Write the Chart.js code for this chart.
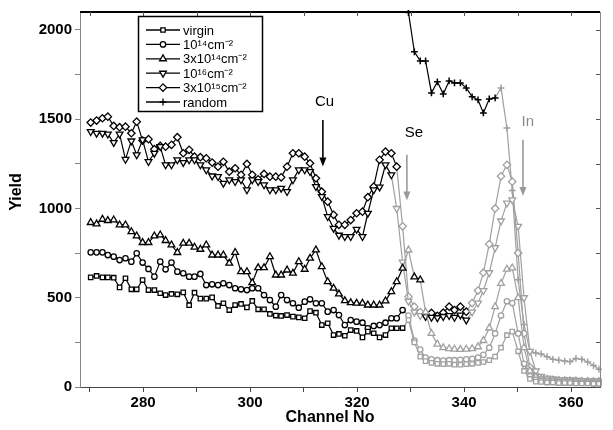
<!DOCTYPE html>
<html><head><meta charset="utf-8">
<script src="https://cdn.jsdelivr.net/npm/chart.js@4.4.1/dist/chart.umd.min.js"></script>
<style>html,body{margin:0;padding:0;background:#fff}#wrap{width:613px;height:430px}</style>
</head><body><div id="wrap"><canvas id="c" width="613" height="430"></canvas></div>
<script>
// ---- data ----
const channels = [270.2,271.3,272.4,273.4,274.5,275.6,276.7,277.8,278.8,279.9,
281.0,282.1,283.2,284.2,285.3,286.4,287.5,288.6,289.6,290.7,
291.8,292.9,294.0,295.0,296.1,297.2,298.3,299.4,300.4,301.5,
302.6,303.7,304.8,305.8,306.9,308.0,309.1,310.2,311.2,312.3,
313.4,314.5,315.6,316.6,317.7,318.8,319.9,321.0,322.0,323.1,
324.2,325.3,326.4,327.4,328.5,329.6,330.7,331.8,332.8,333.9,
335.0,336.1,337.2,338.2,339.3,340.4,341.5,342.6,343.6,344.7,
345.8,346.9,348.0,349.0,350.1,351.2,352.3,353.4,354.4,355.5,
356.6,357.7,358.8,359.8,360.9,362.0,363.1,364.2,365.2];

const virgin = [614,622,614,614,612,558,609,547,547,599,
543,543,525,515,521,519,530,458,528,495,
495,502,454,469,431,459,465,446,482,435,
435,409,400,398,403,394,390,385,425,416,
347,357,291,297,287,319,314,278,310,301,
278,291,329,329,330,375,250,170,145,135,
130,128,130,125,125,128,130,135,140,150,
170,220,290,310,200,90,45,30,28,25,
25,22,22,22,20,20,20,18,18];

const dose1e14 = [754,754,754,739,730,711,721,702,749,697,
661,618,702,659,697,646,637,618,618,633,
571,575,571,581,571,553,547,543,553,553,
515,487,450,515,487,469,444,478,491,469,
469,422,431,403,347,375,366,360,329,342,
347,360,385,385,431,400,260,210,165,155,
150,148,150,150,152,155,158,165,180,220,
300,400,480,470,300,130,60,40,35,32,
30,28,28,26,25,25,24,22,22];

const dose3e14 = [921,913,939,932,936,908,908,870,846,809,
809,846,852,820,796,753,805,805,783,771,
796,739,739,739,693,754,646,646,584,668,
668,730,627,627,655,637,702,659,721,768,
674,590,553,521,483,472,469,469,459,459,
459,482,534,590,665,767,616,600,420,300,
240,220,215,212,210,212,215,225,260,330,
450,580,660,667,500,220,90,55,45,40,
38,35,35,33,32,30,30,28,28];

const dose1e16 = [1430,1421,1421,1416,1369,1416,1275,1378,1300,1384,
1262,1309,1346,1244,1244,1272,1257,1272,1272,1244,
1216,1182,1178,1141,1160,1150,1160,1104,1160,1150,
1132,1104,1104,1113,1094,1160,1216,1216,1206,1122,
1066,954,889,850,842,842,883,842,973,1104,
1120,1244,1188,1000,700,480,420,400,395,390,
388,395,400,390,403,375,420,470,540,640,
780,930,1030,1048,900,500,200,90,60,50,
45,42,40,40,38,36,35,34,33];

const dose3e15 = [1481,1492,1505,1514,1462,1455,1458,1421,1486,1380,
1388,1332,1350,1346,1356,1399,1309,1328,1290,1287,
1281,1257,1234,1261,1206,1225,1188,1249,1188,1163,
1193,1178,1178,1174,1234,1309,1309,1290,1253,1169,
1094,1038,964,908,908,935,973,982,1063,1122,
1272,1318,1309,1234,900,506,450,420,403,415,
398,416,450,431,450,422,470,540,640,800,
1000,1180,1244,1150,750,300,110,60,45,40,
38,36,35,34,33,32,32,30,30];

const random = [null,null,null,null,null,null,null,null,null,null,
null,null,null,null,null,null,null,null,null,null,
null,null,null,null,null,null,null,null,null,null,
null,null,null,null,null,null,null,null,null,null,
null,null,null,null,null,null,null,null,null,null,
null,null,null,null,2600,2097,1877,1826,1826,1647,
1709,1641,1714,1703,1703,1675,1625,1608,1535,1613,
1619,1675,1450,1100,600,350,200,190,185,170,
155,150,145,142,160,155,140,120,100];

const seriesLabels = ['virgin','10\u00B9\u2074cm\u207B\u00B2','3x10\u00B9\u2074cm\u207B\u00B2','10\u00B9\u2076cm\u207B\u00B2','3x10\u00B9\u2075cm\u207B\u00B2','random'];
const xTickLabels = [280,300,320,340,360];
const yTickLabels = [0,500,1000,1500,2000];
const xTitle = 'Channel No';
const yTitle = 'Yield';
const notes = [
  {text:'Cu', ch:313.9, val:1595, arrowFrom:1495, arrowTo:1235, arrowCh:313.6, color:'#000', arrowColor:'#000'},
  {text:'Se', ch:330.6, val:1425, arrowFrom:1300, arrowTo:1045, arrowCh:329.3, color:'#000', arrowColor:'#9a9a9a'},
  {text:'In', ch:351.9, val:1485, arrowFrom:1385, arrowTo:1070, arrowCh:351.0, color:'#8a8a8a', arrowColor:'#9a9a9a'}
];

// ---- styles ----
const GRAY = '#a0a0a0';
const allSeries = [virgin, dose1e14, dose3e14, dose1e16, dose3e15, random];
const marks = [
  {pointStyle:'rect', radius:3.1, rotation:0, bw:1.3},
  {pointStyle:'circle', radius:2.7, rotation:0, bw:1.3},
  {pointStyle:'triangle', radius:3.9, rotation:0, bw:1.3},
  {pointStyle:'triangle', radius:3.9, rotation:180, bw:1.3},
  {pointStyle:'rectRot', radius:3.7, rotation:0, bw:1.3},
  {pointStyle:'cross', radius:3.4, rotation:0, bw:1.5}
];
const grayRanges = [[[55,88]],[[55,88]],[[55,55],[58,88]],[[53,57],[66,88]],[[54,57],[66,88]],[[71,88]]];
function isGray(s,i){ return grayRanges[s].some(r=>i>=r[0]&&i<=r[1]); }

const datasets = allSeries.map((arr,s)=>({
  label: seriesLabels[s],
  data: channels.map((c,i)=>({x:c, y:arr[i]})),
  showLine: true,
  borderWidth: 1.2,
  borderColor: '#000',
  pointStyle: marks[s].pointStyle,
  pointRadius: marks[s].radius,
  pointRotation: marks[s].rotation,
  pointBorderWidth: marks[s].bw,
  pointBackgroundColor: '#fff',
  pointBorderColor: ctx => isGray(s, ctx.dataIndex) ? GRAY : '#000',
  segment: { borderColor: ctx => (isGray(s,ctx.p0DataIndex)||isGray(s,ctx.p1DataIndex)) ? GRAY : '#000' },
  clip: 2,
  tension: 0
}));

function drawMark(ctx, m, x, y){
  if (Chart.helpers && Chart.helpers.drawPoint) {
    Chart.helpers.drawPoint(ctx, {pointStyle:m.pointStyle, rotation:m.rotation, radius:m.radius, borderWidth:m.bw}, x, y);
  }
}

const decor = {
  id:'decor',
  afterDatasetsDraw(chart){
    const {ctx, chartArea:a, scales:{x, y}} = chart;
    ctx.save();
    ctx.strokeStyle = '#000'; ctx.lineWidth = 2;
    ctx.beginPath(); ctx.moveTo(a.left, a.top); ctx.lineTo(a.right, a.top); ctx.stroke();
    ctx.strokeStyle = '#8a8a8a'; ctx.lineWidth = 1;
    ctx.beginPath(); ctx.moveTo(a.right+0.5, a.top); ctx.lineTo(a.right+0.5, a.bottom); ctx.stroke();
    ctx.strokeStyle = '#555';
    x.ticks.forEach(t=>{ const px = Math.round(x.getPixelForValue(t.value))+0.5; ctx.beginPath(); ctx.moveTo(px,a.top); ctx.lineTo(px,a.top+4); ctx.stroke(); });
    y.ticks.forEach(t=>{ const py = Math.round(y.getPixelForValue(t.value))+0.5; ctx.beginPath(); ctx.moveTo(a.right,py); ctx.lineTo(a.right-4,py); ctx.stroke(); });

    notes.forEach(n=>{
      const ax = x.getPixelForValue(n.arrowCh);
      const y0 = y.getPixelForValue(n.arrowFrom), y1 = y.getPixelForValue(n.arrowTo);
      ctx.strokeStyle = n.arrowColor; ctx.fillStyle = n.arrowColor; ctx.lineWidth = 1.6;
      ctx.beginPath(); ctx.moveTo(ax, y0); ctx.lineTo(ax, y1-6); ctx.stroke();
      ctx.beginPath(); ctx.moveTo(ax-3.5, y1-9); ctx.lineTo(ax+3.5, y1-9); ctx.lineTo(ax, y1); ctx.closePath(); ctx.fill();
      ctx.fillStyle = n.color; ctx.font = '15px "Liberation Sans", Arial, sans-serif';
      ctx.textAlign = 'center'; ctx.textBaseline = 'middle';
      ctx.fillText(n.text, x.getPixelForValue(n.ch), y.getPixelForValue(n.val));
    });

    const bx = 138, by = 16, bw = 124, bh = 95;
    ctx.fillStyle = '#fff'; ctx.fillRect(bx, by, bw, bh);
    ctx.strokeStyle = '#000'; ctx.lineWidth = 1.5; ctx.strokeRect(bx+0.5, by+0.5, bw, bh);
    ctx.font = '13px "Liberation Sans", Arial, sans-serif';
    ctx.textAlign = 'left'; ctx.textBaseline = 'middle';
    seriesLabels.forEach((lab,s)=>{
      const ry = by + 14 + s*14.4;
      ctx.strokeStyle = '#000'; ctx.lineWidth = 1.3;
      ctx.beginPath(); ctx.moveTo(bx+8, ry); ctx.lineTo(bx+42, ry); ctx.stroke();
      ctx.fillStyle = '#fff'; ctx.strokeStyle = '#000';
      drawMark(ctx, marks[s], bx+25, ry);
      ctx.fillStyle = '#000';
      ctx.fillText(lab, bx+45, ry+1);
    });

    ctx.fillStyle = '#000';
    ctx.font = 'bold 16px "Liberation Sans", Arial, sans-serif';
    ctx.textAlign = 'center'; ctx.textBaseline = 'middle';
    ctx.fillText(xTitle, 330, 418);
    ctx.translate(17, 192); ctx.rotate(-Math.PI/2);
    ctx.fillText(yTitle, 0, 0);
    ctx.restore();
  }
};

new Chart(document.getElementById('c'), {
  type: 'scatter',
  data: { datasets },
  options: {
    responsive: false,
    animation: false,
    layout: { padding: {top: 11, right: 13, left: 0, bottom: 0} },
    plugins: { legend: {display:false}, tooltip: {enabled:false} },
    scales: {
      x: {
        type: 'linear', min: 268.2, max: 365.4,
        afterFit: s => { s.height = 43; },
        border: {color:'#444', width:1},
        grid: {drawOnChartArea:false, tickLength:5, color:'#444'},
        ticks: {stepSize:10, includeBounds:false, autoSkip:false, maxRotation:0, padding:2, color:'#000',
          font:{family:'"Liberation Sans", Arial, sans-serif', size:15, weight:'bold'},
          callback: v => xTickLabels.includes(v) ? String(v) : ''}
      },
      y: {
        type: 'linear', min: 0, max: 2100,
        afterFit: s => { s.width = 80; },
        border: {color:'#888', width:1},
        grid: {drawOnChartArea:false, tickLength:5, color:'#888'},
        ticks: {stepSize:250, includeBounds:false, autoSkip:false, padding:3, color:'#000',
          font:{family:'"Liberation Sans", Arial, sans-serif', size:15, weight:'bold'},
          callback: v => yTickLabels.includes(v) ? String(v) : ''}
      }
    }
  },
  plugins: [decor]
});
</script>
</body></html>
